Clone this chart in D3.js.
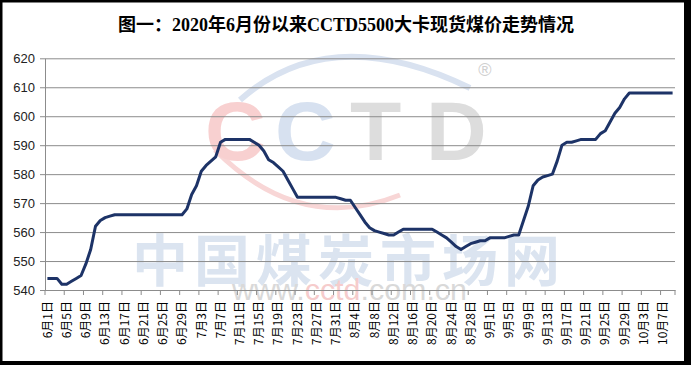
<!DOCTYPE html>
<html><head><meta charset="utf-8">
<script src="https://cdn.jsdelivr.net/npm/d3@7/dist/d3.min.js"></script>
<style>body{margin:0;background:#fff}svg{display:block}</style>
</head><body><svg id="c" width="694" height="365"></svg>
<script>
const title = "图一：2020年6月份以来CCTD5500大卡现货煤价走势情况";
const categories = [
"6月1日","6月2日","6月3日","6月4日","6月5日","6月6日","6月7日","6月8日","6月9日","6月10日",
"6月11日","6月12日","6月13日","6月14日","6月15日","6月16日","6月17日","6月18日","6月19日","6月20日",
"6月21日","6月22日","6月23日","6月24日","6月25日","6月26日","6月27日","6月28日","6月29日","6月30日",
"7月1日","7月2日","7月3日","7月4日","7月5日","7月6日","7月7日","7月8日","7月9日","7月10日",
"7月11日","7月12日","7月13日","7月14日","7月15日","7月16日","7月17日","7月18日","7月19日","7月20日",
"7月21日","7月22日","7月23日","7月24日","7月25日","7月26日","7月27日","7月28日","7月29日","7月30日","7月31日",
"8月1日","8月2日","8月3日","8月4日","8月5日","8月6日","8月7日","8月8日","8月9日","8月10日",
"8月11日","8月12日","8月13日","8月14日","8月15日","8月16日","8月17日","8月18日","8月19日","8月20日",
"8月21日","8月22日","8月23日","8月24日","8月25日","8月26日","8月27日","8月28日","8月29日","8月30日","8月31日",
"9月1日","9月2日","9月3日","9月4日","9月5日","9月6日","9月7日","9月8日","9月9日","9月10日",
"9月11日","9月12日","9月13日","9月14日","9月15日","9月16日","9月17日","9月18日","9月19日","9月20日",
"9月21日","9月22日","9月23日","9月24日","9月25日","9月26日","9月27日","9月28日","9月29日","9月30日",
"10月1日","10月2日","10月3日","10月4日","10月5日","10月6日","10月7日","10月8日","10月9日"];
const prices = [
544,544,544,542,542,543,544,545,
549,554,562,564,565,565.5,566,
566,566,566,566,566,566,566,566,566,566,566,566,566,566,
568,573,576,581,583,584.5,586,591,
592,592,592,592,592,592,
591,590,588,585,584,582.5,581,578,575,572,
572,572,572,572,572,572,572,572,
571.5,571,571,
568.5,566,563.5,561.5,560.5,560,559.5,559,559,560,
561,561,561,561,561,561,561,
560,559,558,556.5,555,554,
555,556,556.5,557,557,558,558,558,558,558.5,559,559,
564,569,576,578,579,579.5,580,584.5,590,591,591,591.5,
592,592,592,592,
594,595,598,601,603,606,608,
608,608,608,608,608,608,608,608,608];
const tickLabels = ["6月1日","6月5日","6月9日","6月13日","6月17日","6月21日","6月25日","6月29日",
"7月3日","7月7日","7月11日","7月15日","7月19日","7月23日","7月27日","7月31日",
"8月4日","8月8日","8月12日","8月16日","8月20日","8月24日","8月28日",
"9月1日","9月5日","9月9日","9月13日","9月17日","9月21日","9月25日","9月29日",
"10月3日","10月7日"];
const yTicks = [540,550,560,570,580,590,600,610,620];

const svg = d3.select("#c");
// frame
svg.append("rect").attr("x",0).attr("y",0).attr("width",691).attr("height",365).attr("fill","#000");
svg.append("rect").attr("x",2.5).attr("y",2.5).attr("width",681.5).attr("height",358.5).attr("fill","#fff");

// watermark
const wm = svg.append("g");
wm.append("path").attr("d","M240,100 Q330,20 470,88").attr("fill","none").attr("stroke","#d9e2f0").attr("stroke-width",6);
wm.append("path").attr("d","M215,150 Q300,235 400,195").attr("fill","none").attr("stroke","#f8d6d6").attr("stroke-width",5);
const lettersWM = [["C",205,"#f8d0d0"],["C",275,"#d7e1f0"],["T",350,"#dddddd"],["D",426,"#dddddd"]];
lettersWM.forEach(l=>wm.append("text").attr("x",l[1]).attr("y",160).attr("font-family","Liberation Sans, Arial, sans-serif")
  .attr("font-weight","bold").attr("font-size",84).attr("fill",l[2]).text(l[0]));
wm.append("text").attr("x",485).attr("y",76).attr("text-anchor","middle").attr("font-family","Liberation Sans, sans-serif")
  .attr("font-size",18).attr("fill","#d0d0d0").text("®");
wm.append("text").attr("x",132).attr("y",281).attr("font-family","'Noto Sans CJK SC', sans-serif").attr("font-weight","bold")
  .attr("font-size",56).attr("letter-spacing",6).attr("fill","#dbe4f0").text("中国煤炭市场网");
const url = wm.append("text").attr("x",232).attr("y",300).attr("font-family","Liberation Sans, sans-serif")
  .attr("font-size",30).attr("fill","#d9d9d9").attr("textLength",235).attr("lengthAdjust","spacingAndGlyphs");
url.append("tspan").text("www.");
url.append("tspan").attr("fill","#f6cccc").text("cctd");
url.append("tspan").text(".com.cn");

// title
svg.append("text").attr("x",346).attr("y",31).attr("text-anchor","middle")
  .attr("font-family","'Liberation Serif','Noto Sans CJK SC',serif").attr("font-weight","bold")
  .attr("font-size",18).attr("fill","#000").text(title);

const L=45,R=675,T=58.3,B=290;
const x = d3.scaleBand().domain(categories).range([L,R]).padding(0);
const y = d3.scaleLinear().domain([540,620]).range([B,T]);

// grid
svg.append("g").attr("transform",`translate(${L},0)`)
  .call(d3.axisLeft(y).tickValues(yTicks).tickSize(-(R-L)).tickFormat(""))
  .call(g=>{g.select(".domain").remove(); g.selectAll("line").attr("stroke","#8c8c8c");});
// y axis
svg.append("g").attr("transform",`translate(${L},0)`)
  .call(d3.axisLeft(y).tickValues(yTicks).tickSize(5).tickPadding(5).tickSizeOuter(0))
  .call(g=>{g.select(".domain").attr("stroke","#8c8c8c"); g.selectAll("line").attr("stroke","#8c8c8c");
    g.selectAll("text").attr("font-family","'Liberation Sans',Arial,sans-serif").attr("font-size",13).attr("fill","#222");});
// x axis
const xa = svg.append("g").attr("transform",`translate(0,${B})`);
xa.call(d3.axisBottom(x).tickValues(tickLabels).tickSize(0).tickSizeOuter(0))
  .call(g=>{g.select(".domain").attr("stroke","#8c8c8c");
    g.selectAll("text").attr("transform","rotate(-90)").attr("x",-11).attr("y",0).attr("dy","0.35em")
     .style("text-anchor","end").attr("font-family","'Noto Sans CJK SC',sans-serif").attr("font-size",12).attr("fill","#000");});
xa.selectAll("line.tk").data(tickLabels.concat(["__end"])).join("line").attr("class","tk")
  .attr("x1",d=>d==="__end"?R:x(d)).attr("x2",d=>d==="__end"?R:x(d)).attr("y1",0).attr("y2",5).attr("stroke","#8c8c8c");

// line
const line = d3.line().x((d,i)=>x(categories[i])+x.bandwidth()/2).y(d=>y(d));
svg.append("path").datum(prices).attr("d",line).attr("fill","none")
  .attr("stroke","#1d3367").attr("stroke-width",3).attr("stroke-linejoin","round");
</script></body></html>
